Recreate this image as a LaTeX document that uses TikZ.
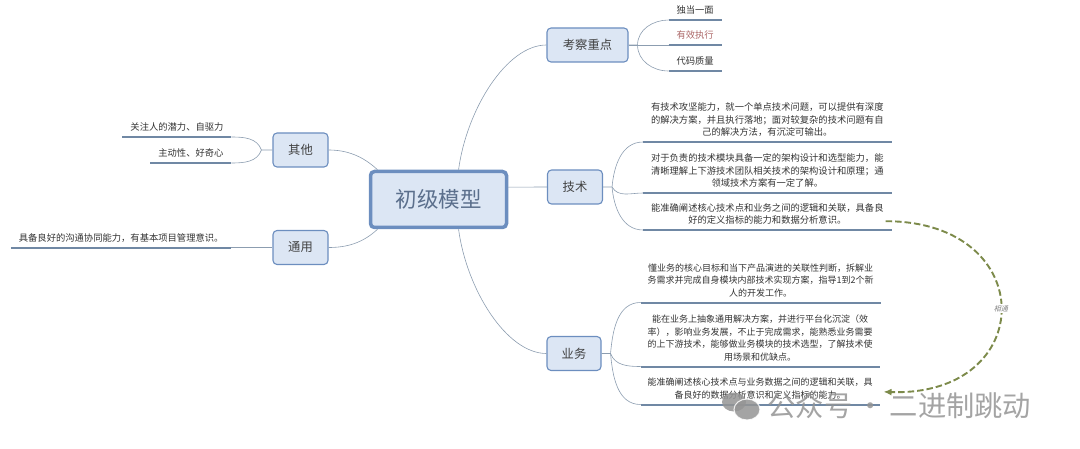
\documentclass[tikz,border=0pt]{standalone}
\usepackage{fontspec}
\setmainfont{Noto Sans CJK SC}
\newfontfamily\slantfont[FakeSlant=0.25]{Noto Sans CJK SC}
\usetikzlibrary{arrows.meta,positioning}

\definecolor{topicfill}{HTML}{DCE6F4}
\definecolor{topicline}{HTML}{6C8EBF}
\definecolor{roottext}{HTML}{5B6F8C}
\definecolor{branchline}{HTML}{8C9DB0}
\definecolor{leafline}{HTML}{7088A4}
\definecolor{relline}{HTML}{7C8A4A}

\begin{document}
\begin{tikzpicture}[
  x=1pt, y=1pt,
  node distance=10pt and 40pt,
  root/.style={draw=topicline, fill=topicfill, line width=3.5pt, rounded corners=4pt, minimum width=136pt, minimum height=56pt, text=roottext, font=\fontsize{21.5}{24}\selectfont},
  topic/.style={draw=topicline, fill=topicfill, line width=1.1pt, rounded corners=4pt, minimum width=55pt, minimum height=34pt, text=black!75, font=\fontsize{12.3}{15}\selectfont},
  leaf/.style={align=center, inner xsep=8pt, inner ysep=3pt, text depth=3pt, outer sep=0pt, text=black!80, font=\fontsize{9.3}{12.7}\selectfont},
  bizleaf/.style={leaf, inner xsep=7pt, font=\fontsize{9}{12.7}\selectfont},
  branch/.style={draw=branchline, line width=0.6pt},
  underline/.style={draw=leafline, line width=2pt},
  relate/.style={draw=relline, line width=1.9pt, dash pattern=on 6.5pt off 3pt, -{Latex[length=8pt,width=7pt]}},
  wmark/.style={text=black!42, opacity=0.85, font=\fontsize{28.3}{32}\selectfont}
]
\useasboundingbox (0,0) rectangle (1080,448);

% Main topics
\node[root] (root) at (438.5,248.5) {初级模型};
\node[topic, minimum width=81pt] (focus) at (587.5,403) {考察重点};
\node[topic] (tech) at (575,261) {技术};
\node[topic, minimum width=54pt] (biz) at (574,94.5) {业务};
\node[topic] (other) at (300.5,298) {其他};
\node[topic] (common) at (300.5,200.5) {通用};

% Leaves
\node[leaf, above right=25pt and 40pt of focus.east] (focus1) {独当一面};
\node[leaf, above right=0pt and 40pt of focus.east, text=red!45!black!60!white] (focus2) {有效执行};
\node[leaf, above right=-26pt and 40pt of focus.east] (focus3) {代码质量};

\node[leaf, above right=45pt and 40pt of tech.east] (tech1) {有技术攻坚能力，就一个单点技术问题，可以提供有深度\\的解决方案，并且执行落地；面对较复杂的技术问题有自\\己的解决方法，有沉淀可输出。};
\node[leaf, above right=-6pt and 40pt of tech.east] (tech2) {对于负责的技术模块具备一定的架构设计和选型能力，能\\清晰理解上下游技术团队相关技术的架构设计和原理；通\\领域技术方案有一定了解。};
\node[leaf, above right=-43pt and 40pt of tech.east] (tech3) {能准确阐述核心技术点和业务之间的逻辑和关联，具备良\\好的定义指标的能力和数据分析意识。};

\node[bizleaf, above right=51pt and 39pt of biz.east] (biz1) {懂业务的核心目标和当下产品演进的关联性判断，拆解业\\务需求并完成自身模块内部技术实现方案，指导1到2个新\\人的开发工作。};
\node[bizleaf, above right=-13pt and 39pt of biz.east] (biz2) {能在业务上抽象通用解决方案，并进行平台化沉淀（效\\率），影响业务发展，不止于完成需求，能熟悉业务需要\\的上下游技术，能够做业务模块的技术选型，了解技术使\\用场景和优缺点。};
\node[bizleaf, above right=-51pt and 39pt of biz.east] (biz3) {能准确阐述核心技术点与业务数据之间的逻辑和关联，具\\备良好的数据分析意识和定义指标的能力。};

\node[leaf, above left=13pt and 41pt of other.west] (other1) {关注人的潜力、自驱力};
\node[leaf, above left=-13pt and 41pt of other.west] (other2) {主动性、好奇心};
\node[leaf, above left=0pt and 41pt of common.west] (common1) {具备良好的沟通协同能力，有基本项目管理意识。};

% Underlines
\foreach \leafname in {focus1,focus2,focus3,tech1,tech2,tech3,biz1,biz2,biz3,other1,other2,common1}
  \draw[underline] (\leafname.south west) -- (\leafname.south east);

% Root connections
\draw[branch] (root.56) .. controls +(8,60) and +(-40,0) .. (focus.west);
\draw[branch] (root.10) .. controls +(15,0) and +(-15,0) .. (tech.west);
\draw[branch] (root.-56) .. controls +(8,-60) and +(-40,0) .. (biz.west);
\draw[branch] (root.154) .. controls +(-15,14) and +(18,0) .. (other.east);
\draw[branch] (root.-154) .. controls +(-15,-14) and +(18,0) .. (common.east);

% Forks
\draw[branch] (focus.east) -- (focus2.south west);
\draw[branch] (focus.east) -- ++(9,0) coordinate (focusfork) to[out=90, in=180] (focus1.south west);
\draw[branch] (focusfork) to[out=-90, in=180] (focus3.south west);

\draw[branch] (tech.east) -- ++(9,0) coordinate (techfork) to[out=85, in=180] (tech1.south west);
\draw[branch] (techfork) to[out=-60, in=180] (tech2.south west);
\draw[branch] (techfork) to[out=-85, in=180] (tech3.south west);

\draw[branch] (biz.east) -- ++(9,0) coordinate (bizfork) to[out=85, in=180] (biz1.south west);
\draw[branch] (bizfork) to[out=-70, in=180] (biz2.south west);
\draw[branch] (bizfork) to[out=-85, in=180] (biz3.south west);

\draw[branch] (other.west) -- ++(-11,0) coordinate (otherfork) to[out=110, in=0] (other1.south east);
\draw[branch] (otherfork) to[out=-110, in=0] (other2.south east);
\draw[branch] (common.west) -- (common1.south east);

% Relation
\draw[relate] ([shift={(-6,-6)}]tech3.east) .. controls +(155,0) and +(155,-5) .. node[midway, fill=white, inner sep=1.5pt, text=black!50, font=\fontsize{7}{8}\selectfont\slantfont] (rel) {相通} ([shift={(4,-2)}]biz3.east);

% Watermark
\fill[black!42, opacity=0.85] (734,46) ellipse (12pt and 9.5pt);
\fill[black!42, opacity=0.85, draw=white, line width=1pt] (747,38.5) ellipse (13pt and 10.5pt);
\node[wmark, anchor=west] (mark) at (764,42) {公众号\hspace{4.5pt}·\hspace{4.5pt}二进制跳动};

\end{tikzpicture}
\end{document}
